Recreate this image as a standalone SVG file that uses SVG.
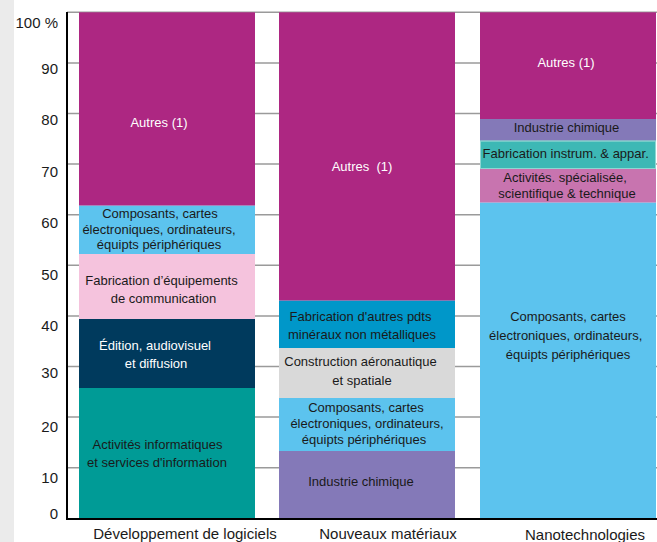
<svg xmlns="http://www.w3.org/2000/svg" width="657" height="542" viewBox="0 0 657 542">
<style>
text{font-family:"Liberation Sans",Arial,sans-serif;fill:#1a1a1a}
.seg{font-size:13px;text-anchor:middle}
.ax{font-size:15px;text-anchor:end}
.cat{font-size:15px;text-anchor:middle}
.grid{stroke:#9a9a9a;stroke-width:1.5}
.w{fill:#ffffff}
</style>
<rect x="0" y="0" width="657" height="542" fill="#ffffff"/>
<rect x="0" y="0" width="14" height="542" fill="#ebebeb"/>
<g id="grid">
<line class="grid" x1="67" y1="12.3" x2="657" y2="12.3"/>
<line class="grid" x1="67" y1="62.9" x2="657" y2="62.9"/>
<line class="grid" x1="67" y1="113.5" x2="657" y2="113.5"/>
<line class="grid" x1="67" y1="164.1" x2="657" y2="164.1"/>
<line class="grid" x1="67" y1="214.7" x2="657" y2="214.7"/>
<line class="grid" x1="67" y1="265.3" x2="657" y2="265.3"/>
<line class="grid" x1="67" y1="315.9" x2="657" y2="315.9"/>
<line class="grid" x1="67" y1="366.5" x2="657" y2="366.5"/>
<line class="grid" x1="67" y1="417.1" x2="657" y2="417.1"/>
<line class="grid" x1="67" y1="467.7" x2="657" y2="467.7"/>
</g>
<g id="yaxis-labels">
<text class="ax" x="58" y="28">100 %</text>
<text class="ax" x="58" y="74">90</text>
<text class="ax" x="58" y="125">80</text>
<text class="ax" x="58" y="177">70</text>
<text class="ax" x="58" y="228">60</text>
<text class="ax" x="58" y="280">50</text>
<text class="ax" x="58" y="331">40</text>
<text class="ax" x="58" y="378">30</text>
<text class="ax" x="58" y="432">20</text>
<text class="ax" x="58" y="483">10</text>
<text class="ax" x="58" y="519">0</text>
</g>
<g id="bar-logiciels">
<rect x="79" y="12.3" width="176" height="193.4" fill="#ad2782"/>
<rect x="79" y="205.7" width="176" height="48.3" fill="#5cc3ee"/>
<rect x="79" y="254" width="176" height="65" fill="#f5c3dd"/>
<rect x="79" y="319" width="176" height="69" fill="#003a5d"/>
<rect x="79" y="388" width="176" height="130.5" fill="#009b96"/>
<text class="seg w" x="159" y="127">Autres (1)</text>
<text class="seg" x="160" y="217.5">Composants, cartes</text>
<text class="seg" x="159" y="233.5">électroniques, ordinateurs,</text>
<text class="seg" x="159" y="249">équipts périphériques</text>
<text class="seg" x="161.5" y="284.5">Fabrication d’équipements</text>
<text class="seg" x="163.5" y="303">de communication</text>
<text class="seg w" x="155" y="349.5">Édition, audiovisuel</text>
<text class="seg w" x="156" y="368">et diffusion</text>
<text class="seg" x="157.5" y="448.5">Activités informatiques</text>
<text class="seg" x="157" y="467">et services d'information</text>
</g>
<g id="bar-materiaux">
<rect x="279" y="12.3" width="176" height="288.4" fill="#ad2782"/>
<rect x="279" y="300.7" width="176" height="47.3" fill="#0097c9"/>
<rect x="279" y="348" width="176" height="50" fill="#d9d9d9"/>
<rect x="279" y="398" width="176" height="53" fill="#5cc3ee"/>
<rect x="279" y="451" width="176" height="67.5" fill="#8479b8"/>
<text class="seg w" x="362" y="171" xml:space="preserve">Autres  (1)</text>
<text class="seg" x="360.5" y="320.5">Fabrication d'autres pdts</text>
<text class="seg" x="362" y="339">minéraux non métalliques</text>
<text class="seg" x="360.5" y="366">Construction aéronautique</text>
<text class="seg" x="362" y="385">et spatiale</text>
<text class="seg" x="366" y="412">Composants, cartes</text>
<text class="seg" x="367" y="428">électroniques, ordinateurs,</text>
<text class="seg" x="364" y="443.5">équipts périphériques</text>
<text class="seg" x="361" y="485.5">Industrie chimique</text>
</g>
<g id="bar-nano">
<rect x="480" y="12.3" width="176" height="106.7" fill="#ad2782"/>
<rect x="480" y="119" width="176" height="21.7" fill="#8479b8"/>
<rect x="480" y="140.7" width="176" height="28.3" fill="#3db8b5"/>
<rect x="480.5" y="141.2" width="175" height="27.3" fill="none" stroke="#8fd6d2" stroke-width="1"/>
<rect x="480" y="169" width="176" height="33.7" fill="#c874af"/>
<rect x="480" y="202.7" width="176" height="315.8" fill="#5cc3ee"/>
<text class="seg w" x="566" y="66.5">Autres (1)</text>
<text class="seg" x="566.5" y="132">Industrie chimique</text>
<text class="seg" x="565.7" y="158">Fabrication instrum. &amp; appar.</text>
<text class="seg" x="565" y="182">Activités. spécialisée,</text>
<text class="seg" x="567" y="198">scientifique &amp; technique</text>
<text class="seg" x="568" y="321">Composants, cartes</text>
<text class="seg" x="565.7" y="340">électroniques, ordinateurs,</text>
<text class="seg" x="568" y="358.5">équipts périphériques</text>
</g>
<g id="axes">
<line x1="67" y1="12" x2="67" y2="520" stroke="#000" stroke-width="2"/>
<line x1="66" y1="519" x2="657" y2="519" stroke="#000" stroke-width="2"/>
</g>
<g id="categories">
<text class="cat" x="185" y="539">Développement de logiciels</text>
<text class="cat" x="388" y="539">Nouveaux matériaux</text>
<text class="cat" x="585" y="540">Nanotechnologies</text>
</g>
</svg>
